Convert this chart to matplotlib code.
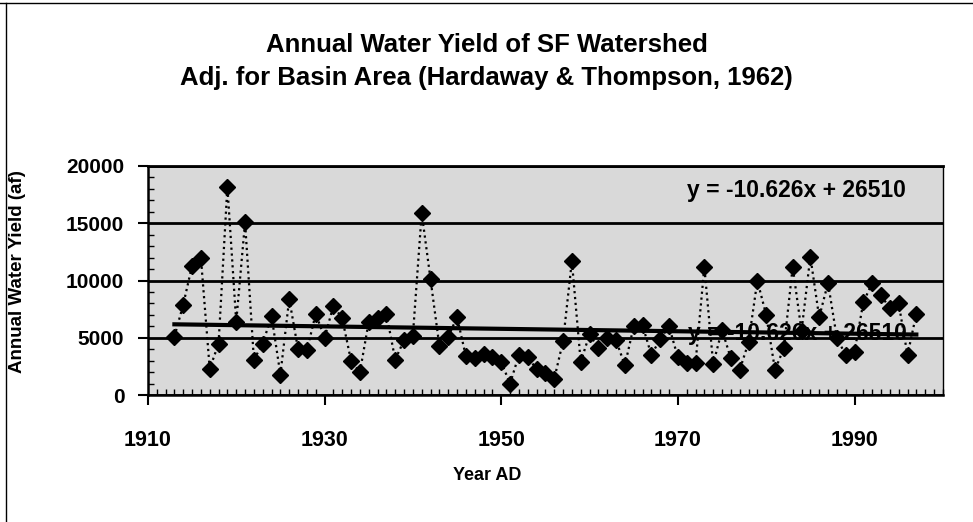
import numpy as np
import matplotlib
matplotlib.use("Agg")
import matplotlib.pyplot as plt
from matplotlib.ticker import MultipleLocator
from matplotlib.lines import Line2D

plt.rcParams['font.family'] = ['Liberation Sans', 'DejaVu Sans']
plt.rcParams['font.weight'] = 'bold'

# === data ===
years = np.arange(1913, 1998)
water_yield = [
    5100, 7900, 11300, 12000, 2300, 4500, 18200, 6400, 15100, 3100,   # 1913-1922
    4500, 6900, 1800, 8400, 4000, 3900, 7100, 5000, 7800, 6700,       # 1923-1932
    3000, 2000, 6400, 6700, 7100, 3100, 4800, 5200, 15900, 10100,     # 1933-1942
    4300, 5100, 6800, 3400, 3200, 3600, 3300, 2900, 1000, 3500,       # 1943-1952
    3300, 2300, 1900, 1400, 4700, 11700, 2900, 5300, 4100, 5000,      # 1953-1962
    4800, 2600, 6000, 6100, 3500, 4900, 6000, 3300, 2800, 2800,       # 1963-1972
    11200, 2700, 5700, 3200, 2200, 4600, 10000, 7000, 2200, 4100,     # 1973-1982
    11200, 5600, 12100, 6800, 9800, 5000, 3500, 3800, 8100, 9800,     # 1983-1992
    8700, 7600, 8000, 3500, 7100,                                     # 1993-1997
]
slope = -10.626
intercept = 26510
eq_label = "y = -10.626x + 26510"

title_lines = ["Annual Water Yield of SF Watershed",
               "Adj. for Basin Area (Hardaway & Thompson, 1962)"]
x_ticks = [1910, 1930, 1950, 1970, 1990]

# === figure ===
fig = plt.figure(figsize=(9.73, 5.22), dpi=100)
ax = fig.add_axes([0.152, 0.243, 0.817, 0.439])
ax.set_facecolor('#d9d9d9')
ax.set_axisbelow(True)

ax.plot(years, water_yield, ls=':', color='black', lw=1.6,
        marker='D', ms=8.5, mfc='black', mec='black', zorder=4)

trend_x = np.array([years[0], years[-1]])
ax.plot(trend_x, slope * trend_x + intercept, color='black', lw=3, zorder=3)

ax.text(0.953, 0.895, eq_label, transform=ax.transAxes, ha='right', va='center',
        fontsize=16.5, zorder=2.5)
ax.text(0.955, 0.27, eq_label, transform=ax.transAxes, ha='right', va='center',
        fontsize=16.5, zorder=2.5)

ax.set_xlim(1910, 2000)
ax.set_ylim(0, 20000)
ax.set_xticks(x_ticks)
ax.xaxis.set_minor_locator(MultipleLocator(1))
ax.yaxis.set_major_locator(MultipleLocator(5000))
ax.yaxis.set_minor_locator(MultipleLocator(1000))
ax.tick_params(axis='x', which='major', direction='out', length=7, width=1.5,
               labelsize=15.5, pad=18)
ax.tick_params(axis='y', which='major', direction='out', length=7, width=1.5,
               labelsize=15, pad=10)
ax.tick_params(which='minor', direction='in', length=4, width=1)
ax.grid(axis='y', which='major', color='black', lw=2)

for s in ['left', 'bottom']:
    ax.spines[s].set_linewidth(1.8)
ax.spines['top'].set_linewidth(2)
ax.spines['right'].set_linewidth(1)

for i, line in enumerate(title_lines):
    fig.text(0.5, 1 - (45 + 33 * i) / 522, line, ha='center', va='center', fontsize=18.5)
fig.text(18 / 973, 1 - 272 / 522, "Annual Water Yield (af)", rotation=90,
         ha='center', va='center', fontsize=13.5)
fig.text(487 / 973, 1 - 476 / 522, "Year AD", ha='center', va='center', fontsize=13)

# frame round the chart (left and top edges visible in the scan)
fig.add_artist(Line2D([0.006, 0.006], [0, 0.994], transform=fig.transFigure, color='black', lw=1))
fig.add_artist(Line2D([0, 1], [0.994, 0.994], transform=fig.transFigure, color='black', lw=1))

fig.savefig("out.png", dpi=100)
